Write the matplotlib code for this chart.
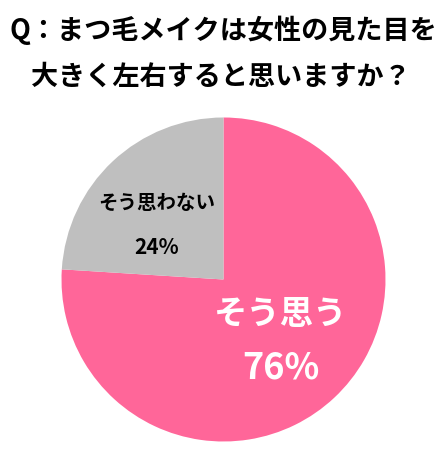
import matplotlib
matplotlib.use("Agg")
import matplotlib.pyplot as plt
import numpy as np

plt.rcParams['font.family'] = ['Noto Sans CJK JP', 'DejaVu Sans']

# data
labels = ['そう思う', 'そう思わない']
values = [76, 24]
colors = ['#FF6699', '#BFBFBF']
title_lines = ['Q：まつ毛メイクは女性の見た目を', '大きく左右すると思いますか？']

fig = plt.figure(figsize=(4.48, 4.62), dpi=100)
ax = fig.add_axes([61.5 / 448, 20.5 / 462, 324 / 448, 324 / 462])

wedges, _ = ax.pie(values, colors=colors, startangle=90, counterclock=False,
                   radius=1, wedgeprops=dict(linewidth=0))
ax.set_xlim(-1, 1)
ax.set_ylim(-1, 1)
ax.set_aspect('equal')
ax.axis('off')

# labels placed from wedge angles
for i, w in enumerate(wedges):
    ang = np.deg2rad((w.theta1 + w.theta2) / 2)
    if i == 0:
        r = 0.52
        x, y = r * np.cos(ang), r * np.sin(ang)
        ax.text(x, y + 0.165, labels[i], ha='center', va='center',
                fontsize=24, fontweight='bold', color='white')
        ax.text(x, y - 0.17, f'{values[i]}%', ha='center', va='center',
                fontsize=26, fontweight='bold', color='white')
    else:
        r = 0.63
        x, y = r * np.cos(ang), r * np.sin(ang)
        ax.text(x + 0.02, y + 0.01, labels[i], ha='center', va='center',
                fontsize=14, fontweight='bold', color='black')
        ax.text(x + 0.02, y - 0.26, f'{values[i]}%', ha='center', va='center',
                fontsize=15, fontweight='bold', color='black')

fig.text(223 / 448, 1 - 30 / 462, title_lines[0], ha='center', va='center',
         fontsize=19.5, fontweight='bold')
fig.text(221 / 448, 1 - 77 / 462, title_lines[1], ha='center', va='center',
         fontsize=19.5, fontweight='bold')

fig.savefig('out.png', dpi=100, facecolor='white')
